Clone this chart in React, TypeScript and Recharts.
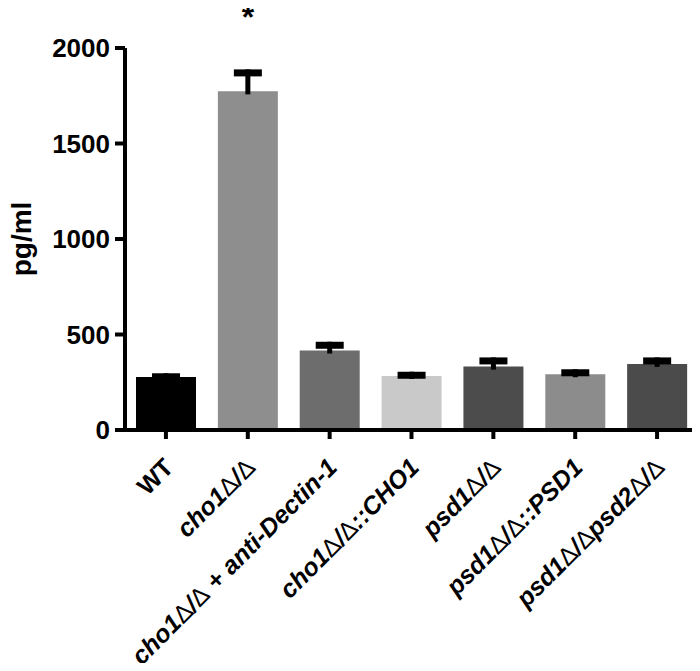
import React from "react";
import { BarChart, Bar, XAxis, YAxis, Cell, LabelList } from "recharts";

const categories = [
  "WT",
  "cho1Δ/Δ",
  "cho1Δ/Δ + anti-Dectin-1",
  "cho1Δ/Δ::CHO1",
  "psd1Δ/Δ",
  "psd1Δ/Δ::PSD1",
  "psd1Δ/Δpsd2Δ/Δ",
];
const means = [277, 1773, 416, 283, 332, 292, 346];
const sem = [20, 115, 46, 22, 48, 26, 34];
const significance = ["", "*", "", "", "", "", ""];
const barColors = ["#000000", "#8e8e8e", "#6d6d6d", "#c9c9c9", "#4c4c4c", "#8c8c8c", "#4b4b4b"];
const yTicks = [0, 500, 1000, 1500, 2000];

const data = categories.map((name, i) => ({
  name,
  value: means[i],
  sem: sem[i],
  sig: significance[i],
}));

const FONT = "'Liberation Sans', Arial, sans-serif";

// upper-only error bar drawn in the stacked segment above each bar
const ErrorCap = (props: any) => {
  const { x, y, width, height } = props;
  const cx = x + width / 2;
  return (
    <g>
      <rect x={cx - 2.5} y={y} width={5} height={height + 3} fill="#000" />
      <rect x={cx - 14} y={y} width={28} height={7} fill="#000" />
    </g>
  );
};

const XTick = (props: any) => {
  const { x, y, payload } = props;
  const label: string = payload.value;
  const italic = label !== "WT";
  const parts = label.split(/(Δ)/).filter((p) => p !== "");
  return (
    <g transform={`translate(${x + 9},${y + 28}) rotate(-45)`}>
      <text
        textAnchor="end"
        fontSize={25}
        fontWeight="bold"
        fontStyle={italic ? "italic" : "normal"}
        fontFamily={FONT}
        fill="#000"
      >
        {parts.map((p, i) =>
          p === "Δ" ? (
            <tspan key={i} fontWeight="normal" fontStyle="normal">
              Δ
            </tspan>
          ) : (
            <tspan key={i}>{p}</tspan>
          )
        )}
      </text>
    </g>
  );
};

export default function App() {
  return (
    <div style={{ margin: -8, background: "#fff" }}>
      <BarChart
        width={700}
        height={671}
        data={data}
        margin={{ top: 48, right: 2, bottom: 0, left: 0 }}
        barSize={60}
      >
        <XAxis
          dataKey="name"
          interval={0}
          height={241}
          axisLine={{ stroke: "#000", strokeWidth: 4 }}
          tickLine={{ stroke: "#000", strokeWidth: 4 }}
          tickSize={9}
          tick={<XTick />}
        />
        <YAxis
          width={125}
          domain={[0, 2000]}
          ticks={yTicks}
          axisLine={{ stroke: "#000", strokeWidth: 4 }}
          tickLine={{ stroke: "#000", strokeWidth: 4 }}
          tickSize={10}
          tickMargin={5}
          tick={{ fill: "#000", fontSize: 26, fontWeight: "bold", fontFamily: FONT }}
          label={{
            value: "pg/ml",
            angle: -90,
            position: "insideLeft",
            offset: 21,
            style: { textAnchor: "middle", fill: "#000", fontSize: 28, fontWeight: "bold", fontFamily: FONT },
          }}
        />
        <Bar dataKey="value" stackId="s" isAnimationActive={false}>
          {data.map((d, i) => (
            <Cell key={d.name} fill={barColors[i]} />
          ))}
        </Bar>
        <Bar dataKey="sem" stackId="s" isAnimationActive={false} shape={<ErrorCap />}>
          <LabelList
            dataKey="sig"
            position="top"
            offset={41}
            fill="#000"
            fontSize={32}
            fontWeight="bold"
            fontFamily={FONT}
          />
        </Bar>
      </BarChart>
    </div>
  );
}
